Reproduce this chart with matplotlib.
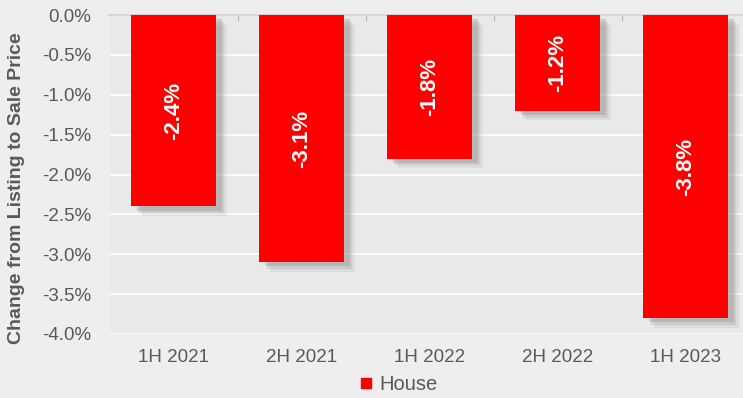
import numpy as np
import matplotlib.pyplot as plt
import matplotlib.patheffects as pe
from matplotlib.lines import Line2D
from matplotlib.ticker import FuncFormatter, FixedLocator

# chart data
periods = ['1H 2021', '2H 2021', '1H 2022', '2H 2022', '1H 2023']
house_change = [-2.4, -3.1, -1.8, -1.2, -3.8]
y_ticks = [0.0, -0.5, -1.0, -1.5, -2.0, -2.5, -3.0, -3.5, -4.0]

plt.rcParams['font.family'] = ['Liberation Sans', 'DejaVu Sans']
text_grey = '#595959'

fig = plt.figure(figsize=(7.43, 3.98), dpi=100, facecolor='#eeeeee')
ax = fig.add_axes([109.5 / 743, 64 / 398, 640 / 743, 319 / 398])
ax.set_facecolor('#e9e9e9')

x = np.arange(len(periods))
# soft-ish drop shadow to the lower right
shadow = [pe.SimplePatchShadow(offset=(8, -7), shadow_rgbFace='#aaaaaa', alpha=0.2),
          pe.SimplePatchShadow(offset=(6, -5), shadow_rgbFace='#999999', alpha=0.25),
          pe.SimplePatchShadow(offset=(4, -3), shadow_rgbFace='#888888', alpha=0.3),
          pe.Normal()]
bars = ax.bar(x, house_change, width=0.664, color='#ff0000', label='House', zorder=3)
for b in bars:
    b.set_path_effects(shadow)

for xi, v in zip(x, house_change):
    ax.text(xi, v / 2, f'{v:.1f}%', rotation=90, ha='center', va='center',
            color='white', fontsize=16, fontweight='bold', zorder=4)

ax.set_xlim(-0.5, len(periods) - 0.5)
ax.set_ylim(-4.0, 0.0)
ax.set_yticks(y_ticks)
ax.yaxis.set_major_formatter(FuncFormatter(lambda v, p: f'{v:.1f}%'))
ax.grid(axis='y', color='white', linewidth=1.2, zorder=0)
ax.set_axisbelow(True)

ax.set_xticks(x)
ax.set_xticklabels(periods)
ax.xaxis.set_minor_locator(FixedLocator(np.arange(0.5, len(periods) - 0.5, 1)))
ax.tick_params(axis='x', which='major', length=0, pad=11, labelsize=13.5, labelcolor=text_grey)
ax.tick_params(axis='x', which='minor', bottom=False, top=True, direction='in',
               length=4, color='#b0b0b0')
ax.tick_params(axis='y', length=0, pad=13, labelsize=13.5, labelcolor=text_grey)

for s in ['left', 'right', 'bottom']:
    ax.spines[s].set_visible(False)
ax.spines['top'].set_color('#d0d0d0')
ax.spines['top'].set_linewidth(1.2)

fig.text(17 / 743, 1 - 188 / 398, 'Change from Listing to Sale Price', rotation=90,
         ha='center', va='center', fontsize=14, fontweight='bold', color=text_grey)

house_handle = Line2D([], [], linestyle='none', marker='s', markersize=7,
                      markerfacecolor='#ff0000', markeredgecolor='#ff0000')
leg = fig.legend(handles=[house_handle], labels=['House'], loc='center',
                 bbox_to_anchor=(399 / 743, 1 - 385 / 398),
                 frameon=False, fontsize=14.5, handlelength=0.5,
                 handletextpad=0.4, labelcolor=text_grey)

fig.savefig('out.png', dpi=100, facecolor=fig.get_facecolor())
